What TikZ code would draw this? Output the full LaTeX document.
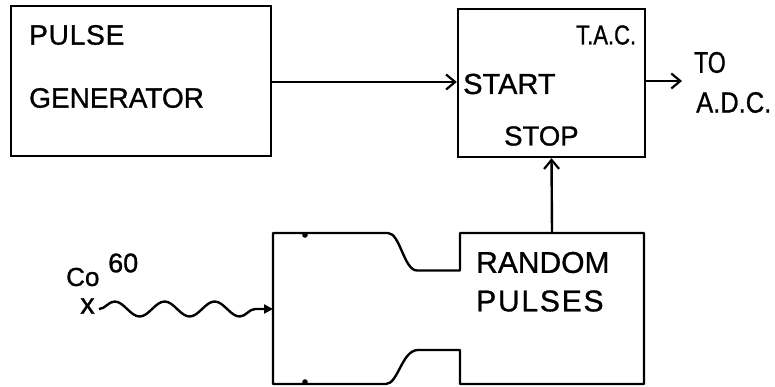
\documentclass[tikz,border=0pt]{standalone}
\usepackage{graphicx}
\usepackage{fontspec}
\setmainfont{Liberation Sans}[FakeBold=1]
\usetikzlibrary{arrows.meta,decorations.pathmorphing}
\newcommand\lsp[2]{{\addfontfeature{LetterSpace=#1}#2}}
\newcommand\tallt[2]{\scalebox{1}[#1]{#2}}
\begin{document}
\begin{tikzpicture}[x=1pt,y=-1pt,line width=2.4pt,
  blk/.style={draw,inner sep=0pt,minimum width=#1},
  lbl/.style={inner sep=0pt,anchor=west},
  barb/.style={-{Straight Barb[length=9pt,width=15pt,line width=2.2pt]}},
  wavy/.style={decorate,decoration={snake,amplitude=7.5pt,segment length=50pt,post length=14pt},
     -{Triangle[length=9pt,width=9pt]}}]
\useasboundingbox (0,0) rectangle (775,387);
% boxes
\node[blk=260pt,minimum height=150pt] (pg) at (141,81) {};
\node[blk=187pt,minimum height=148pt] (tac) at (551.5,83) {};
\node[inner sep=0pt,minimum width=184pt,minimum height=151pt] (rp) at (552,308.5) {};
% detector outline
\draw[line join=round] (417,270.5) -- (460,270.5) -- (460,233) -- (644,233) -- (644,384)
  -- (460,384) -- (460,350) -- (418,350) .. controls (402,350) and (398,384) .. (386,384)
  -- (273,384) -- (273,233) -- (388,233) .. controls (400,233) and (404,270.5) .. (417,270.5) -- cycle;
\fill (305,235) circle (2.8pt);
\fill (305,382) circle (2.8pt);
% texts
\node[lbl,font=\fontsize{28}{33}\selectfont] (t1) at (28,35) {\lsp{3}{PULSE}};
\node[lbl,font=\fontsize{28}{33}\selectfont] (t2) at (28,98) {GENERATOR};
\node[lbl,font=\fontsize{22}{26}\selectfont] (t3) at (575,35) {\tallt{1.25}{T.A.C.}};
\node[lbl,font=\fontsize{29}{34}\selectfont] (t4) at (462,84) {START};
\node[lbl,font=\fontsize{27.5}{32}\selectfont] (t5) at (503,136) {STOP};
\node[lbl,font=\fontsize{23}{27}\selectfont] (t6) at (693,62.5) {\tallt{1.3}{TO}};
\node[lbl,font=\fontsize{25.5}{30}\selectfont] (t7) at (695,102.5) {\tallt{1.15}{A.D.C.}};
\node[lbl,font=\fontsize{30}{35}\selectfont] (t8) at (475,262.5) {RANDOM};
\node[lbl,font=\fontsize{30}{35}\selectfont] (t9) at (475,301) {\lsp{6}{PULSES}};
\node[lbl,font=\fontsize{26}{31}\selectfont] (co) at (65,277) {Co};
\node[lbl,font=\fontsize{27}{32}\selectfont] (sx) at (107,263) {60};
\node[inner sep=0pt,font=\fontsize{29}{34}\selectfont] (src) at (87.5,306) {x};
% connectors
\coordinate (wst) at (99,309);
\coordinate (din) at (273,309);
\coordinate (adc) at (682,81);
\draw[barb] (pg.east |- 0,82) -- (tac.west |- 0,82);
\draw[barb] (tac.east |- 0,81) -- (adc);
\draw[barb] (rp.north) -- (tac.south);
\draw[wavy] (wst) -- (din);
\end{tikzpicture}
\end{document}
